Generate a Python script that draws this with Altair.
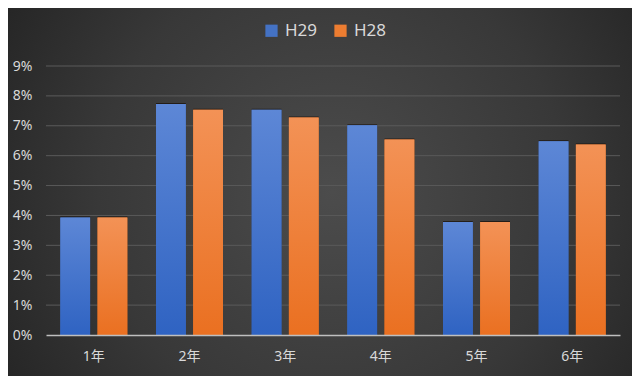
import altair as alt
import pandas as pd

categories = ["1年", "2年", "3年", "4年", "5年", "6年"]
series = ["H29", "H28"]
h29 = [0.0393, 0.0773, 0.0754, 0.0702, 0.0378, 0.0648]
h28 = [0.0393, 0.0754, 0.0728, 0.0654, 0.0378, 0.0637]
y_ticks = [0.0, 0.01, 0.02, 0.03, 0.04, 0.05, 0.06, 0.07, 0.08, 0.09]

rows = []
for c, a, b in zip(categories, h29, h28):
    rows.append({"cat": c, "series": "H29", "value": a})
    rows.append({"cat": c, "series": "H28", "value": b})
df = pd.DataFrame(rows)
grid_df = pd.DataFrame({"value": y_ticks[1:]})

W, H = 574, 269
PL, PT, PR, PB = 38, 58, 12, 41
FONT = "Noto Sans, Noto Sans CJK JP, sans-serif"
LABEL = "#d9d9d9"

x_enc = alt.X(
    "cat:N", sort=categories,
    scale=alt.Scale(paddingInner=0.3, paddingOuter=0.15),
    axis=alt.Axis(title=None, labelAngle=0, ticks=False, grid=False,
                  domainColor="#bfbfbf", domainWidth=1.5,
                  labelColor=LABEL, labelFontSize=14, labelPadding=14,
                  labelFont=FONT, zindex=1),
)
xo_enc = alt.XOffset("series:N", sort=series,
                     scale=alt.Scale(domain=series, paddingInner=0.2, paddingOuter=0))
y_axis = alt.Axis(title=None, format=".0%", values=y_ticks, domain=False,
                  ticks=False, grid=False, labelColor=LABEL, labelFontSize=14,
                  labelPadding=14, labelFont=FONT, zindex=1)
y_enc = alt.Y("value:Q", scale=alt.Scale(domain=[0, 0.09], nice=False), axis=y_axis)

bg = alt.Chart(pd.DataFrame({"k": [0]})).mark_rect(
    color={
        "gradient": "radial",
        "x1": 0.52, "y1": 0.5, "r1": 0,
        "x2": 0.52, "y2": 0.5, "r2": 0.75,
        "stops": [
            {"offset": 0, "color": "#4c4c4c"},
            {"offset": 0.5, "color": "#383838"},
            {"offset": 1, "color": "#1a1a1a"},
        ],
    }
).encode(
    x=alt.value(-PL), x2=alt.value(W + PR),
    y=alt.value(-PT), y2=alt.value(H + PB),
)

grid = alt.Chart(grid_df).mark_rule(color="#5a5a5a", strokeWidth=1).encode(y=y_enc)

base = alt.Chart(df)

shadow = base.mark_bar(color="#120800", opacity=0.6, xOffset=2, yOffset=-1).encode(
    x=x_enc, xOffset=xo_enc, y=y_enc
)

legend_bars = base.mark_bar().encode(
    x=x_enc, xOffset=xo_enc, y=y_enc,
    color=alt.Color(
        "series:N", sort=series,
        scale=alt.Scale(domain=series, range=["#4472C4", "#ED7D31"]),
        legend=alt.Legend(
            title=None, orient="none", direction="horizontal",
            legendX=217, legendY=-44, symbolType="square", symbolSize=150,
            symbolStrokeWidth=0, labelColor=LABEL, labelFontSize=17,
            labelFont=FONT, labelOffset=5, columnPadding=14, padding=0,
            zindex=1,
        ),
    ),
)

blue_grad = {
    "gradient": "linear", "x1": 0, "y1": 0, "x2": 0, "y2": 1,
    "stops": [{"offset": 0, "color": "#5d87d6"}, {"offset": 1, "color": "#2f63c2"}],
}
orange_grad = {
    "gradient": "linear", "x1": 0, "y1": 0, "x2": 0, "y2": 1,
    "stops": [{"offset": 0, "color": "#f39256"}, {"offset": 1, "color": "#ea7021"}],
}

blue_bars = base.transform_filter(alt.datum.series == "H29").mark_bar(color=blue_grad).encode(
    x=x_enc, xOffset=xo_enc, y=y_enc
)
orange_bars = base.transform_filter(alt.datum.series == "H28").mark_bar(color=orange_grad).encode(
    x=x_enc, xOffset=xo_enc, y=y_enc
)

chart = alt.layer(bg, grid, shadow, legend_bars, blue_bars, orange_bars).properties(
    width=W, height=H,
    autosize=alt.AutoSizeParams(type="none"),
    padding={"left": PL, "top": PT, "right": PR, "bottom": PB},
    background="#2a2a2a",
).configure_view(stroke=None)

chart.save("out.html", embed_options={"renderer": "svg", "actions": False})
